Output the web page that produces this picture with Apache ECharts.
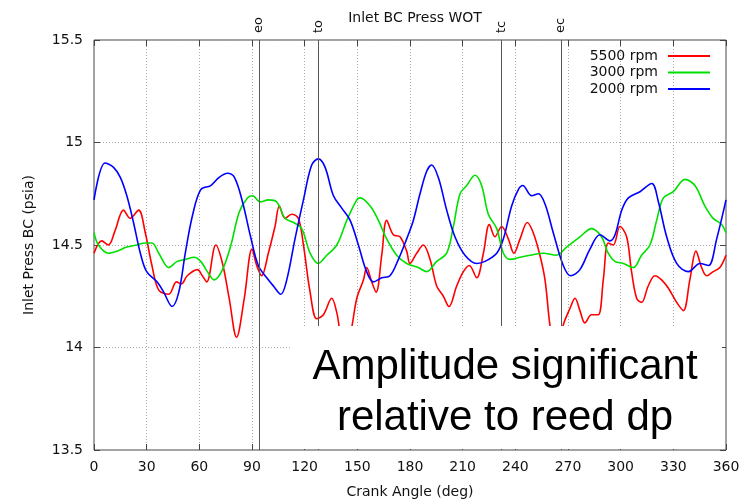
<!DOCTYPE html>
<html>
<head>
<meta charset="utf-8">
<script src="https://cdn.jsdelivr.net/npm/echarts@6/dist/echarts.min.js"></script>
<style>
html, body { margin: 0; padding: 0; background: #fff; }
#main { width: 749px; height: 504px; }
</style>
</head>
<body>
<div id="main"></div>
<script>
// Datos (grados de ciguenal, psia)
var ang5500 = [0, 4.4, 8.2, 12, 16.8, 20.6, 25.4, 29.2, 33, 36.9, 42.6, 47, 49.7, 53.1, 58.9, 61.7, 64.2, 69.4, 73.2, 77, 81.2, 85.6, 90, 92.7, 95.5, 99.3, 103.1, 105.6, 108.8, 112.6, 116.4, 119.3, 123.1, 126.9, 130.7, 135.4, 138.3, 142, 145.5, 149.7, 153.5, 155.3, 158.2, 160.7, 163.9, 166.7, 170.5, 174.3, 178.1, 180, 183.8, 187.6, 191.4, 195.2, 199, 202.2, 206.6, 210.4, 213.8, 218, 221.8, 225.2, 228.4, 232.2, 236, 239.2, 242.7, 246.8, 250.2, 254, 256.9, 259.7, 263, 267.3, 271.1, 274, 276.8, 279.6, 283.4, 287.2, 290.1, 292.9, 295.8, 299.6, 303.4, 306.2, 309.1, 311.9, 315.7, 319.5, 323.3, 327.1, 331.9, 335.7, 339.4, 342.9, 346.1, 349, 352.7, 356.5, 360];
var p5500 = [14.46, 14.52, 14.50, 14.57, 14.67, 14.63, 14.67, 14.56, 14.40, 14.28, 14.26, 14.32, 14.31, 14.35, 14.38, 14.35, 14.32, 14.50, 14.41, 14.24, 14.05, 14.24, 14.48, 14.40, 14.35, 14.46, 14.59, 14.69, 14.63, 14.65, 14.63, 14.50, 14.27, 14.14, 14.16, 14.24, 14.17, 14.02, 14.05, 14.24, 14.33, 14.39, 14.32, 14.27, 14.45, 14.62, 14.55, 14.54, 14.47, 14.41, 14.46, 14.50, 14.43, 14.30, 14.25, 14.20, 14.30, 14.37, 14.40, 14.34, 14.46, 14.60, 14.54, 14.59, 14.53, 14.46, 14.53, 14.61, 14.56, 14.45, 14.33, 14.11, 13.95, 14.11, 14.19, 14.24, 14.18, 14.12, 14.16, 14.16, 14.33, 14.51, 14.50, 14.59, 14.54, 14.37, 14.24, 14.22, 14.30, 14.35, 14.33, 14.29, 14.22, 14.18, 14.33, 14.47, 14.39, 14.35, 14.37, 14.39, 14.45];

var ang3000 = [0, 2.5, 8.2, 13, 18.7, 24.5, 29.2, 33, 36.9, 42.6, 47.4, 52.2, 57, 60.8, 64.6, 68.4, 73.2, 78, 82.7, 87.5, 90.4, 94.6, 99.3, 104.1, 108.8, 113.6, 118.3, 123.1, 127.8, 132.6, 138.3, 144, 149.7, 151.6, 157.3, 162, 166.7, 172.4, 178.1, 184.7, 189.5, 195.2, 200.9, 204.7, 208.5, 212.3, 217, 220.8, 224.6, 229.4, 233.2, 237, 242.7, 248.4, 255.9, 263.5, 269.2, 276.8, 283.4, 289.1, 292.9, 296.7, 301.5, 307.2, 311.9, 316.7, 320.5, 324.3, 330, 336.6, 342.3, 348, 352.7, 357.5, 360];
var p3000 = [14.56, 14.50, 14.46, 14.47, 14.49, 14.50, 14.51, 14.51, 14.46, 14.39, 14.42, 14.43, 14.44, 14.42, 14.37, 14.33, 14.38, 14.50, 14.66, 14.73, 14.74, 14.71, 14.72, 14.71, 14.63, 14.61, 14.58, 14.46, 14.41, 14.45, 14.50, 14.62, 14.72, 14.73, 14.69, 14.62, 14.53, 14.45, 14.41, 14.39, 14.37, 14.42, 14.46, 14.59, 14.75, 14.79, 14.84, 14.79, 14.65, 14.58, 14.46, 14.43, 14.44, 14.45, 14.46, 14.45, 14.49, 14.54, 14.58, 14.54, 14.46, 14.42, 14.41, 14.39, 14.45, 14.50, 14.62, 14.73, 14.76, 14.82, 14.79, 14.69, 14.63, 14.60, 14.56];

var ang2000 = [0, 6.3, 11, 15, 18.7, 22.5, 26.4, 30, 36, 39.7, 44.5, 48.3, 52, 56, 60.8, 66.5, 71.3, 76, 80, 84.6, 89.2, 93.6, 98.4, 102.2, 106.4, 109.8, 114.5, 119.3, 124, 127.8, 131.6, 136.4, 141.1, 145.9, 150.6, 155.3, 159.2, 163.9, 168.6, 173.4, 178.1, 181.9, 185.7, 189.5, 192.3, 196.1, 200.9, 205.6, 211.3, 218, 222.7, 229.4, 233.2, 237.9, 241.7, 244.2, 249.3, 253.1, 256.9, 261.6, 267.3, 271.5, 276.8, 282.5, 288.2, 293.9, 296.8, 300.6, 304.4, 311, 317.7, 321.5, 326.2, 331.9, 338.6, 345.2, 350, 354.7, 360];
var p2000 = [14.72, 14.90, 14.88, 14.83, 14.74, 14.61, 14.46, 14.37, 14.32, 14.27, 14.20, 14.27, 14.46, 14.64, 14.77, 14.79, 14.83, 14.85, 14.83, 14.71, 14.54, 14.40, 14.34, 14.30, 14.26, 14.33, 14.53, 14.72, 14.89, 14.92, 14.88, 14.74, 14.68, 14.62, 14.50, 14.37, 14.32, 14.34, 14.35, 14.43, 14.53, 14.62, 14.75, 14.86, 14.89, 14.83, 14.67, 14.54, 14.45, 14.41, 14.42, 14.46, 14.53, 14.69, 14.77, 14.79, 14.74, 14.75, 14.70, 14.56, 14.40, 14.35, 14.38, 14.48, 14.55, 14.52, 14.55, 14.67, 14.73, 14.76, 14.80, 14.71, 14.54, 14.41, 14.37, 14.41, 14.40, 14.53, 14.72];

// Eventos de lumbreras
var eventAng = [94, 128, 232, 266];
var eventName = ['eo', 'to', 'tc', 'ec'];

var seriesNames = ['5500 rpm', '3000 rpm', '2000 rpm'];
var seriesColors = ['#ff0000', '#00e000', '#0000ff'];

var font = 'DejaVu Sans';

function pares(xs, ys) {
    return xs.map(function (x, i) { return [x, ys[i]]; });
}

var grafico = echarts.init(document.getElementById('main'));

// ticks hacia adentro en los cuatro lados
var tickIn = { show: true, inside: true, length: 6, lineStyle: { color: '#444' } };

var option = {
    animation: false,
    color: seriesColors,
    title: {
        text: 'Inlet BC Press WOT',
        left: 410,
        top: 6,
        textAlign: 'center',
        textStyle: { fontFamily: font, fontSize: 14, fontWeight: 'normal', color: '#111' }
    },
    legend: {
        data: seriesNames,
        orient: 'vertical',
        right: 34,
        top: 44,
        align: 'right',
        icon: 'rect',
        itemWidth: 42,
        itemHeight: 2,
        itemGap: 2.5,
        textStyle: { fontFamily: font, fontSize: 14, color: '#111', padding: [0, 5, 0, 0], lineHeight: 14 }
    },
    grid: {
        left: 94,
        right: 23,
        top: 40,
        bottom: 52,
        show: true,
        borderColor: '#444',
        borderWidth: 1
    },
    xAxis: [{
        type: 'value',
        min: 0,
        max: 360,
        interval: 30,
        name: 'Crank Angle (deg)',
        nameLocation: 'middle',
        nameGap: 35,
        nameTextStyle: { fontFamily: font, fontSize: 14, color: '#111' },
        axisLine: { show: false, onZero: false },
        axisTick: tickIn,
        axisLabel: { fontFamily: font, fontSize: 14, color: '#111', margin: 10 },
        splitLine: { show: true, lineStyle: { color: '#aaa', type: [1, 2], width: 1 } }
    }, {
        // etiquetas de eventos arriba del grafico
        type: 'value',
        position: 'top',
        min: 0,
        max: 360,
        axisLine: { show: false, onZero: false },
        axisTick: { show: false },
        splitLine: { show: false },
        axisLabel: {
            customValues: eventAng,
            rotate: -90,
            margin: 7,
            fontFamily: font,
            fontSize: 13,
            color: '#111',
            formatter: function (v) {
                var i = eventAng.indexOf(v);
                return i >= 0 ? eventName[i] : '';
            }
        }
    }, {
        // ticks espejo arriba
        type: 'value',
        position: 'top',
        min: 0,
        max: 360,
        interval: 30,
        axisLine: { show: false, onZero: false },
        axisTick: tickIn,
        axisLabel: { show: false },
        splitLine: { show: false }
    }],
    yAxis: [{
        type: 'value',
        position: 'left',
        min: 13.5,
        max: 15.5,
        interval: 0.5,
        name: 'Inlet Press BC (psia)',
        nameLocation: 'middle',
        nameGap: 58,
        nameTextStyle: { fontFamily: font, fontSize: 14, color: '#111' },
        axisLine: { show: false, onZero: false },
        axisTick: tickIn,
        axisLabel: { fontFamily: font, fontSize: 14, color: '#111', margin: 11 },
        splitLine: { show: true, lineStyle: { color: '#aaa', type: [1, 2], width: 1 } }
    }, {
        // ticks espejo a la derecha
        type: 'value',
        position: 'right',
        min: 13.5,
        max: 15.5,
        interval: 0.5,
        axisLine: { show: false, onZero: false },
        axisTick: tickIn,
        axisLabel: { show: false },
        splitLine: { show: false }
    }],
    series: [{
        name: seriesNames[0],
        type: 'line',
        symbol: 'none',
        smooth: 0.35,
        lineStyle: { width: 1.6 },
        data: pares(ang5500, p5500),
        markLine: {
            silent: true,
            symbol: ['none', 'none'],
            label: { show: false },
            lineStyle: { color: '#555', width: 1, type: 'solid' },
            data: eventAng.map(function (a) { return { xAxis: a }; })
        }
    }, {
        name: seriesNames[1],
        type: 'line',
        symbol: 'none',
        smooth: 0.35,
        lineStyle: { width: 1.6 },
        data: pares(ang3000, p3000)
    }, {
        name: seriesNames[2],
        type: 'line',
        symbol: 'none',
        smooth: 0.35,
        lineStyle: { width: 1.6 },
        data: pares(ang2000, p2000)
    }],
    // recuadro blanco con la nota
    graphic: [{
        type: 'rect',
        left: 292,
        top: 326,
        shape: { width: 430, height: 123 },
        style: { fill: '#fff' },
        z: 100
    }, {
        type: 'text',
        x: 505,
        y: 367,
        style: {
            text: 'Amplitude significant',
            font: '42px "Liberation Sans", Arial, sans-serif',
            fill: '#000',
            textAlign: 'center',
            textVerticalAlign: 'middle'
        },
        z: 101
    }, {
        type: 'text',
        x: 505,
        y: 418,
        style: {
            text: 'relative to reed dp',
            font: '42px "Liberation Sans", Arial, sans-serif',
            fill: '#000',
            textAlign: 'center',
            textVerticalAlign: 'middle'
        },
        z: 101
    }]
};

grafico.setOption(option);
</script>
</body>
</html>
